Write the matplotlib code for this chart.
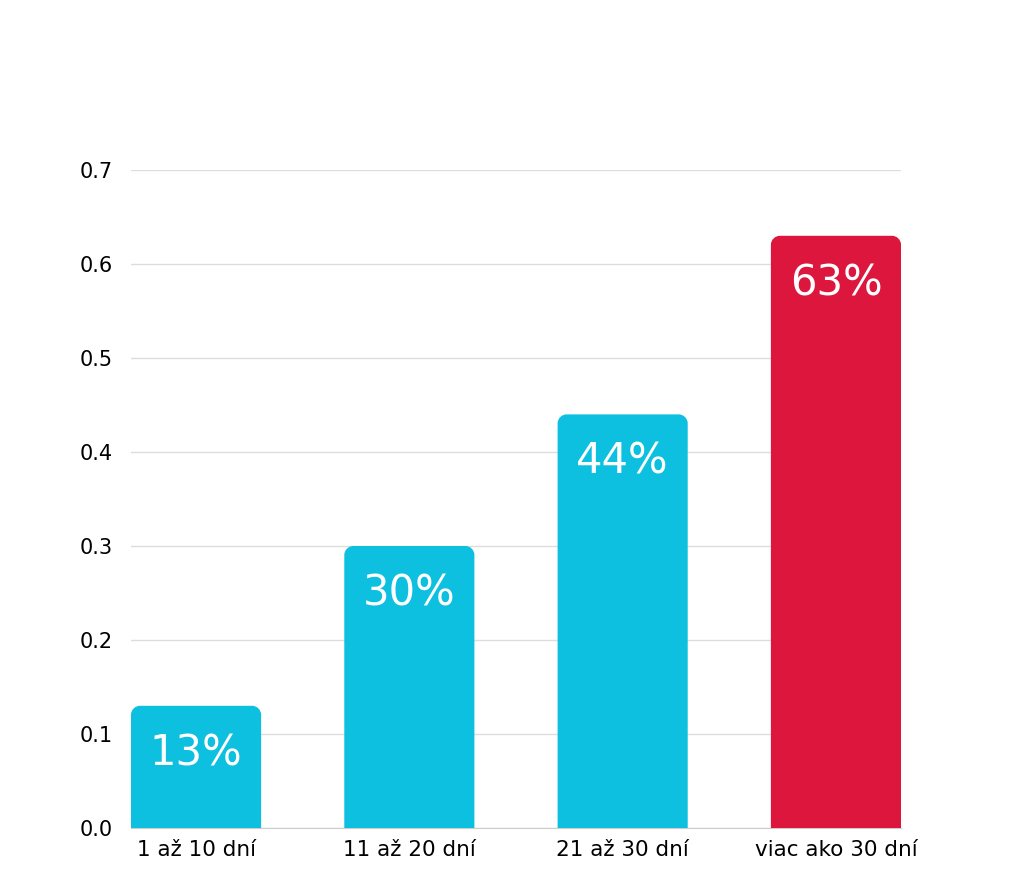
import matplotlib
matplotlib.use("Agg")
import matplotlib.pyplot as plt
from matplotlib.path import Path
from matplotlib.patches import PathPatch

categories = ["1 až 10 dní", "11 až 20 dní", "21 až 30 dní", "viac ako 30 dní"]
values = [0.13, 0.30, 0.44, 0.63]
labels = ["13%", "30%", "44%", "63%"]
colors = ["#0DC0DF", "#0DC0DF", "#0DC0DF", "#DC163D"]
yticks = [0.0, 0.1, 0.2, 0.3, 0.4, 0.5, 0.6, 0.7]

plt.rcParams['font.family'] = ['DejaVu Sans']

fig = plt.figure(figsize=(10.24, 8.86), dpi=100)
ax = fig.add_axes([131 / 1024, 1 - 828 / 886, 770 / 1024, 658 / 886])

x = list(range(len(categories)))
bars = ax.bar(x, values, width=0.61, color=colors, zorder=3)
ax.set_xlim(-0.305, 3.305)
ax.set_ylim(0, 0.7)
fig.canvas.draw()


def round_top(rect, radius_px=9):
    # swap a plain bar for one with rounded top corners
    x0, w, h = rect.get_x(), rect.get_width(), rect.get_height()
    p0 = ax.transData.transform((0, 0))
    p1 = ax.transData.transform((1, 1))
    rx = radius_px / (p1[0] - p0[0])
    ry = radius_px / (p1[1] - p0[1])
    x1 = x0 + w
    k = 0.55
    verts = [(x0, 0), (x0, h - ry),
             (x0, h - ry + k * ry), (x0 + rx - k * rx, h), (x0 + rx, h),
             (x1 - rx, h),
             (x1 - rx + k * rx, h), (x1, h - ry + k * ry), (x1, h - ry),
             (x1, 0), (x0, 0)]
    codes = [Path.MOVETO, Path.LINETO,
             Path.CURVE4, Path.CURVE4, Path.CURVE4,
             Path.LINETO,
             Path.CURVE4, Path.CURVE4, Path.CURVE4,
             Path.LINETO, Path.CLOSEPOLY]
    patch = PathPatch(Path(verts, codes), facecolor=rect.get_facecolor(),
                      edgecolor='none', zorder=3)
    rect.remove()
    ax.add_patch(patch)


for rect in list(bars):
    round_top(rect)

for xi, v, lab in zip(x, values, labels):
    ax.annotate(lab, (xi, v), xytext=(0, -19), textcoords='offset points',
                ha='center', va='top', color='white', fontsize=30)

ax.set_yticks(yticks)
ax.set_yticklabels([f"{t:.1f}" for t in yticks])
ax.set_xticks(x)
ax.set_xticklabels(categories)
ax.tick_params(axis='both', length=0, labelsize=15, colors='#000000')
ax.tick_params(axis='x', labelsize=15.5)
ax.tick_params(axis='y', pad=13)
ax.tick_params(axis='x', pad=9)

ax.grid(axis='y', color='#dddddd', linewidth=1, zorder=0)
for s in ['top', 'right', 'left']:
    ax.spines[s].set_visible(False)
ax.spines['bottom'].set_color('#cccccc')

fig.savefig("out.png", dpi=100)
